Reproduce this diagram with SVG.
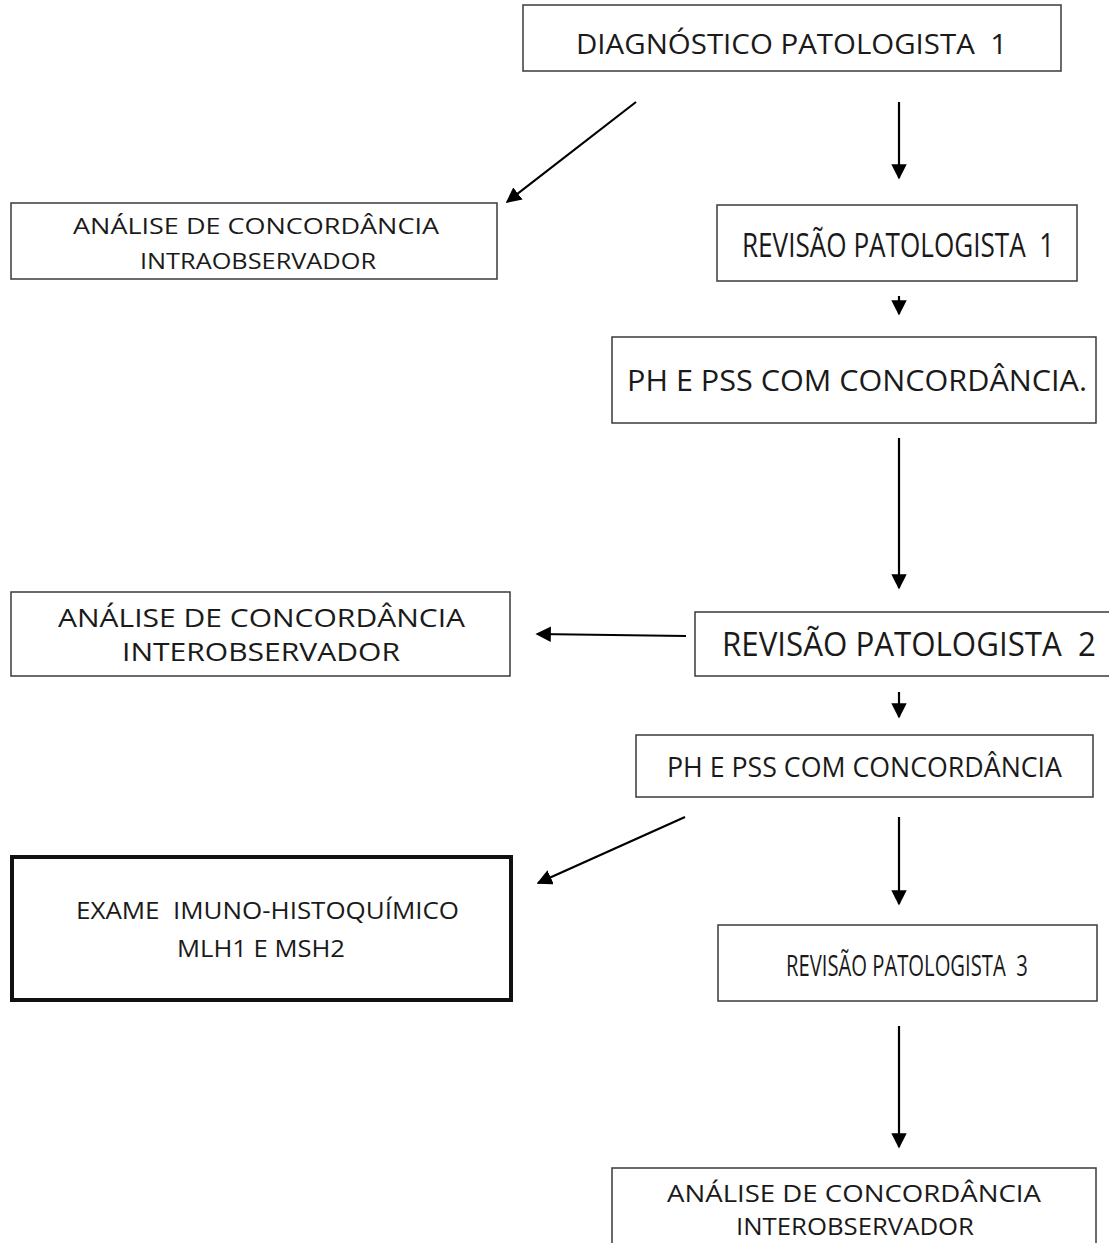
<svg xmlns="http://www.w3.org/2000/svg" width="1109" height="1243" viewBox="0 0 1109 1243">
<style>
.box{fill:#fff;stroke:#3a3a3a;stroke-width:1.5}
.thick{fill:#fff;stroke:#111;stroke-width:4}
.t{font-family:"Open Sans","Noto Sans","Liberation Sans",sans-serif;fill:#1a1a1a;text-anchor:start;white-space:pre}
.c{stroke:#000;stroke-width:2.2;fill:none;marker-end:url(#ah)}
</style>
<defs>
<marker id="ah" viewBox="0 0 10 10" refX="9" refY="5" markerWidth="7" markerHeight="7" markerUnits="strokeWidth" orient="auto">
<path d="M0,0 L10,5 L0,10 z" fill="#000"/>
</marker>
</defs>
<rect width="1109" height="1243" fill="#fff"/>
<g id="connectors">
<line class="c" x1="636" y1="102" x2="507" y2="202"/>
<line class="c" x1="899" y1="102" x2="899" y2="178"/>
<line class="c" x1="899" y1="296" x2="899" y2="314"/>
<line class="c" x1="899" y1="438" x2="899" y2="588"/>
<line class="c" x1="686" y1="636" x2="537" y2="634"/>
<line class="c" x1="899" y1="692" x2="899" y2="717"/>
<line class="c" x1="685" y1="817" x2="538" y2="883"/>
<line class="c" x1="899" y1="817" x2="899" y2="904"/>
<line class="c" x1="899" y1="1026" x2="899" y2="1147"/>
</g>
<g id="n1">
<rect class="box" x="523" y="5" width="538" height="66"/>
<text class="t" x="576" y="54" font-size="27" textLength="431" lengthAdjust="spacingAndGlyphs">DIAGNÓSTICO PATOLOGISTA  1</text>
</g>
<g id="n2">
<rect class="box" x="11" y="203" width="486" height="76"/>
<text class="t" x="73" y="234" font-size="22" textLength="366" lengthAdjust="spacingAndGlyphs">ANÁLISE DE CONCORDÂNCIA</text>
<text class="t" x="140" y="269" font-size="22" textLength="236" lengthAdjust="spacingAndGlyphs">INTRAOBSERVADOR</text>
</g>
<g id="n3">
<rect class="box" x="717" y="205" width="360" height="76"/>
<text class="t" transform="translate(742,257) scale(0.7,1)" x="0" y="0" font-size="33" textLength="446" lengthAdjust="spacingAndGlyphs">REVISÃO PATOLOGISTA  1</text>
</g>
<g id="n4">
<rect class="box" x="612" y="337" width="484" height="86"/>
<text class="t" x="627" y="391" font-size="29" textLength="460" lengthAdjust="spacingAndGlyphs">PH E PSS COM CONCORDÂNCIA.</text>
</g>
<g id="n5">
<rect class="box" x="11" y="592" width="499" height="84"/>
<text class="t" x="58" y="627" font-size="25" textLength="407" lengthAdjust="spacingAndGlyphs">ANÁLISE DE CONCORDÂNCIA</text>
<text class="t" x="122" y="661" font-size="25" textLength="278" lengthAdjust="spacingAndGlyphs">INTEROBSERVADOR</text>
</g>
<g id="n6">
<rect class="box" x="695" y="612" width="420" height="64"/>
<text class="t" transform="translate(722,656) scale(0.82,1)" x="0" y="0" font-size="33" textLength="456" lengthAdjust="spacingAndGlyphs">REVISÃO PATOLOGISTA  2</text>
</g>
<g id="n7">
<rect class="box" x="636" y="735" width="457" height="62"/>
<text class="t" x="667" y="777" font-size="27" textLength="395" lengthAdjust="spacingAndGlyphs">PH E PSS COM CONCORDÂNCIA</text>
</g>
<g id="n8">
<rect class="thick" x="12" y="857" width="499" height="143"/>
<text class="t" x="76" y="919" font-size="24" textLength="383" lengthAdjust="spacingAndGlyphs">EXAME  IMUNO-HISTOQUÍMICO</text>
<text class="t" x="177" y="957" font-size="24" textLength="168" lengthAdjust="spacingAndGlyphs">MLH1 E MSH2</text>
</g>
<g id="n9">
<rect class="box" x="718" y="925" width="379" height="76"/>
<text class="t" transform="translate(786,976) scale(0.6,1)" x="0" y="0" font-size="30" textLength="403" lengthAdjust="spacingAndGlyphs">REVISÃO PATOLOGISTA  3</text>
</g>
<g id="n10">
<rect class="box" x="612" y="1168" width="484" height="90"/>
<text class="t" x="667" y="1202" font-size="23" textLength="374" lengthAdjust="spacingAndGlyphs">ANÁLISE DE CONCORDÂNCIA</text>
<text class="t" x="736" y="1235" font-size="23" textLength="238" lengthAdjust="spacingAndGlyphs">INTEROBSERVADOR</text>
</g>
</svg>
